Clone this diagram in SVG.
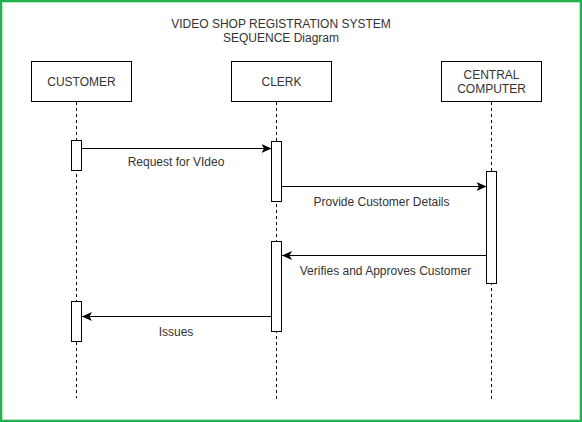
<svg xmlns="http://www.w3.org/2000/svg" width="582" height="422" viewBox="0 0 582 422">
<style>
.box{fill:#fff;stroke:#000;stroke-width:1}
.life{stroke:#000;stroke-width:1;stroke-dasharray:3 3;fill:none}
.msg{stroke:#000;stroke-width:1;fill:none}
text{font-family:"Liberation Sans",Arial,sans-serif;font-size:12px;fill:#333;text-anchor:middle}
</style>
<defs>
<marker id="arr" viewBox="0 0 10 10" refX="10" refY="5" markerWidth="10" markerHeight="10" markerUnits="userSpaceOnUse" orient="auto">
<path d="M0,0.5 L10,5 L0,9.5 L2.5,5 Z" fill="#000"/>
</marker>
</defs>
<rect x="0" y="0" width="582" height="422" fill="#fff"/>
<rect x="1" y="1" width="580" height="420" fill="none" stroke="#22b14c" stroke-width="2"/>
<rect x="2.5" y="2.5" width="577" height="417" fill="none" stroke="#b5eac4" stroke-width="1"/>
<g id="title">
<text x="281" y="28">VIDEO SHOP REGISTRATION SYSTEM</text>
<text x="281" y="42">SEQUENCE Diagram</text>
</g>
<g id="connectors">
<line class="life" x1="76.5" y1="102" x2="76.5" y2="398"/>
<line class="life" x1="276.5" y1="102" x2="276.5" y2="401"/>
<line class="life" x1="491.5" y1="102" x2="491.5" y2="399"/>
<line class="msg" x1="82" y1="148.5" x2="271.5" y2="148.5" marker-end="url(#arr)"/>
<line class="msg" x1="282" y1="186.5" x2="486.5" y2="186.5" marker-end="url(#arr)"/>
<line class="msg" x1="486.5" y1="255.5" x2="282" y2="255.5" marker-end="url(#arr)"/>
<line class="msg" x1="271.5" y1="316.5" x2="82" y2="316.5" marker-end="url(#arr)"/>
<text x="176" y="166">Request for VIdeo</text>
<text x="381.5" y="206">Provide Customer Details</text>
<text x="385.5" y="275">Verifies and Approves Customer</text>
<text x="176" y="335.5">Issues</text>
</g>
<g id="customer">
<rect class="box" x="31.5" y="61.5" width="100" height="40"/>
<text x="81.5" y="85.5">CUSTOMER</text>
</g>
<g id="clerk">
<rect class="box" x="231.5" y="61.5" width="100" height="40"/>
<text x="281.5" y="85.5">CLERK</text>
</g>
<g id="central">
<rect class="box" x="441.5" y="61.5" width="100" height="40"/>
<text x="491.5" y="79">CENTRAL</text>
<text x="491.5" y="93">COMPUTER</text>
</g>
<g id="act-customer-1"><rect class="box" x="71.5" y="140.5" width="10" height="30"/></g>
<g id="act-clerk-1"><rect class="box" x="271.5" y="141.5" width="10" height="60"/></g>
<g id="act-central-1"><rect class="box" x="486.5" y="171.5" width="10" height="112"/></g>
<g id="act-clerk-2"><rect class="box" x="271.5" y="241.5" width="10" height="90"/></g>
<g id="act-customer-2"><rect class="box" x="71.5" y="301.5" width="10" height="40"/></g>
</svg>
